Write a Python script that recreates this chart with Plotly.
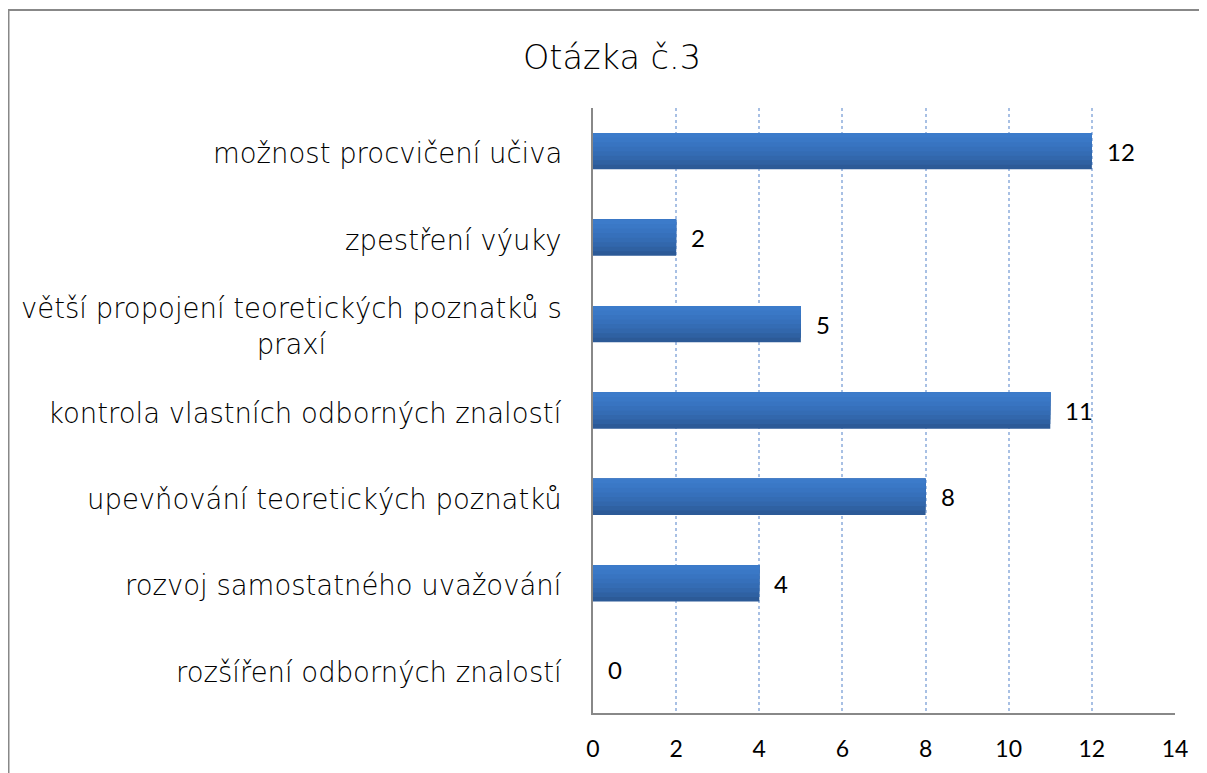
import plotly.graph_objects as go

categories = [
    "rozšíření odborných znalostí",
    "rozvoj samostatného uvažování",
    "upevňování teoretických poznatků",
    "kontrola vlastních odborných znalostí",
    "větší propojení teoretických poznatků s<br>praxí",
    "zpestření výuky",
    "možnost procvičení učiva",
]
values = [0, 4, 8, 11, 5, 2, 12]
x_ticks = [0, 2, 4, 6, 8, 10, 12, 14]
title_text = "Otázka č.3"

LABEL_FONT = "DejaVu Sans"
NUM_FONT = "Lato"

# vertical gradient of the bars, bottom -> top
gradient = ["#2C5A97", "#2F61A2", "#3267AC", "#346CB4", "#3670BB", "#3874C1", "#3A78C6", "#3C7BCA"]
bar_w = 0.42

fig = go.Figure()
n = len(gradient)
for i, col in enumerate(gradient):
    start = -bar_w / 2 + i * bar_w / n
    fig.add_trace(go.Bar(
        y=categories, x=values, orientation="h",
        width=bar_w / 2 - start, offset=start,
        marker=dict(color=col, line=dict(width=0)),
        hoverinfo="skip",
    ))

annotations = []
for c, v in zip(categories, values):
    annotations.append(dict(
        x=v, y=c, xref="x", yref="y", text=str(v), showarrow=False,
        xanchor="left", xshift=13, font=dict(family=NUM_FONT, size=24, color="#000"),
    ))
    annotations.append(dict(
        x=0, y=c, xref="paper", yref="y", text=c, showarrow=False,
        xanchor="right", align="center", xshift=-29, yshift=-2,
        font=dict(family=LABEL_FONT, size=27.5, color="#000", weight=200),
    ))

W, H = 1199, 765
L, R, T, B = 585, 32, 100, 60
pw, ph = W - L - R, H - T - B

fig.update_layout(
    width=W, height=H,
    margin=dict(l=L, r=R, t=T, b=B),
    paper_bgcolor="white", plot_bgcolor="white",
    showlegend=False,
    barmode="overlay",
    title=dict(text=title_text, x=604 / W, xanchor="center", y=1 - 49 / H, yanchor="middle",
               font=dict(family=LABEL_FONT, size=33.5, color="#000", weight=200)),
    xaxis=dict(range=[0, 14], tickvals=x_ticks, showgrid=True,
               gridcolor="#A8C0E4", griddash="dot", gridwidth=1.5,
               showline=True, linecolor="#888", linewidth=2,
               zeroline=False, ticks="outside", ticklen=14, tickcolor="rgba(0,0,0,0)",
               tickfont=dict(family=NUM_FONT, size=23, color="#000")),
    yaxis=dict(showticklabels=False, showline=True, linecolor="#888", linewidth=2,
               showgrid=False, zeroline=False, categoryorder="array", categoryarray=categories),
    annotations=annotations,
    shapes=[
        dict(type="line", xref="paper", yref="paper", x0=(0 - L) / pw, x1=(W + 20 - L) / pw,
             y0=(T + ph - 2) / ph, y1=(T + ph - 2) / ph,
             line=dict(color="#888", width=2)),
        dict(type="line", xref="paper", yref="paper", x0=(0.5 - L) / pw, x1=(0.5 - L) / pw,
             y0=(T + ph - 2) / ph, y1=-0.2,
             line=dict(color="#888", width=2)),
    ],
)

fig.write_html("out.html")
